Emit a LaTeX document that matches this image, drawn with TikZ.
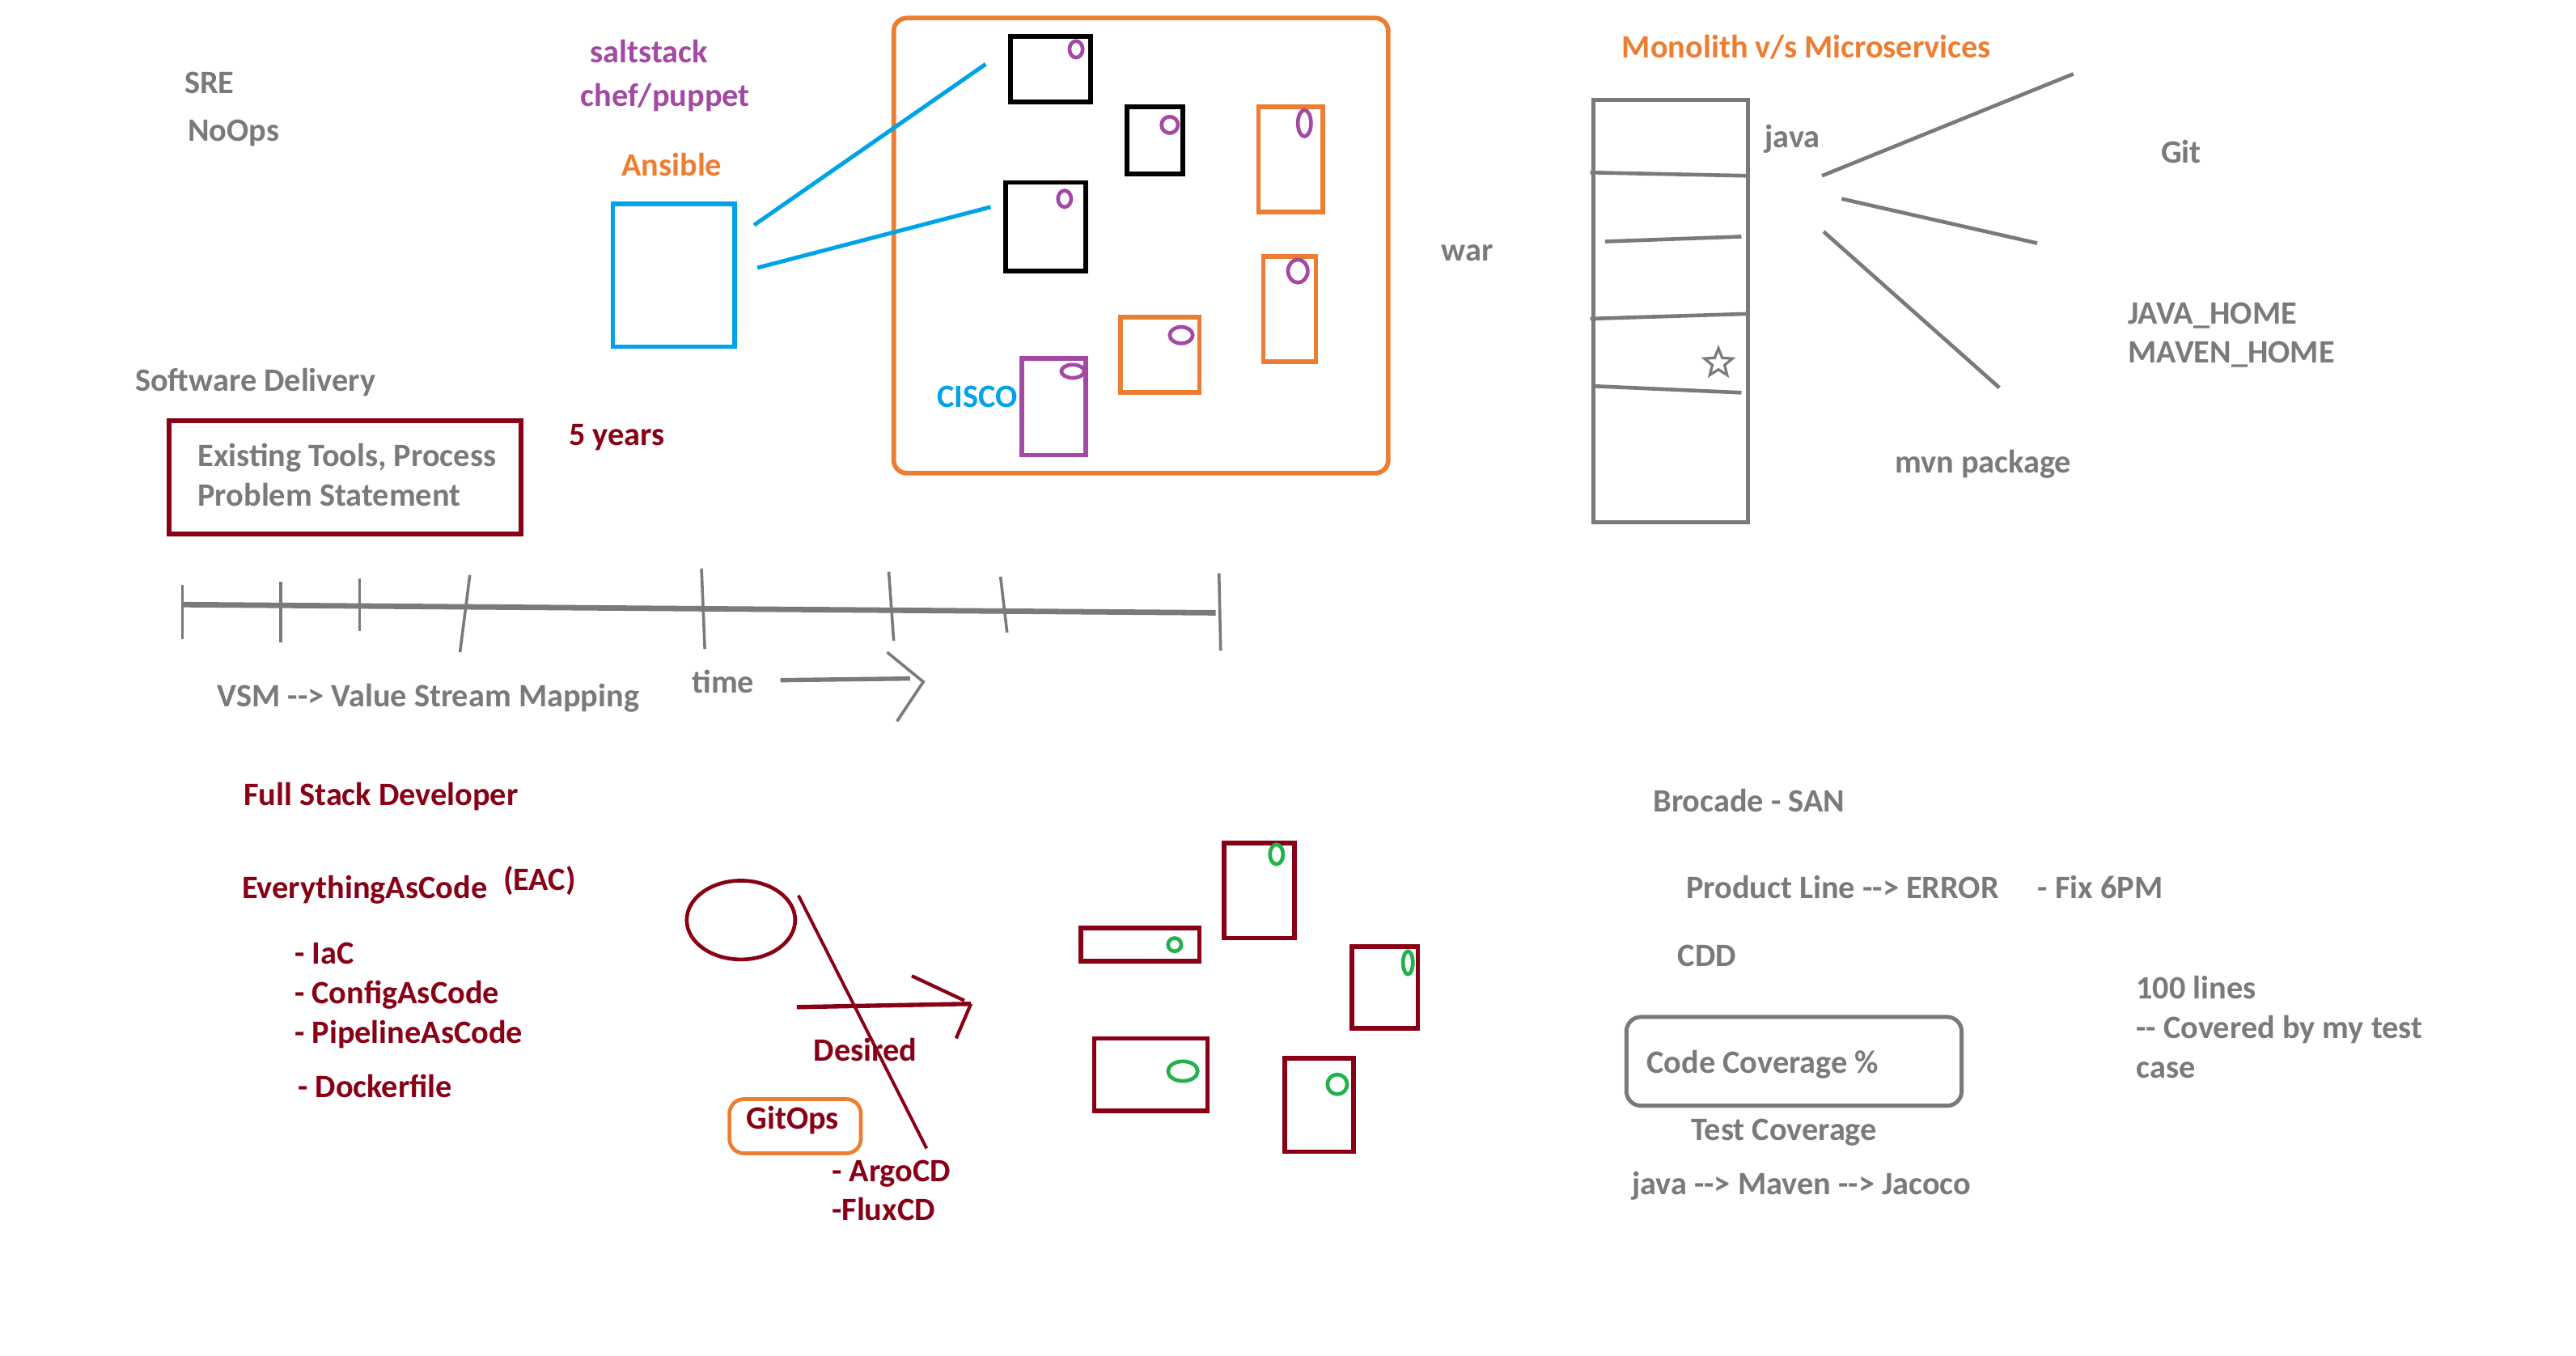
\documentclass[tikz,border=0pt]{standalone}
\usepackage{fontspec}
\setmainfont{Carlito}
\usetikzlibrary{fit,shapes.geometric}
\definecolor{inkgray}{RGB}{122,122,122}
\definecolor{inkred}{RGB}{136,0,21}
\definecolor{inkorange}{RGB}{237,125,49}
\definecolor{inkpurple}{RGB}{163,73,164}
\definecolor{inkblue}{RGB}{0,162,232}
\definecolor{inkgreen}{RGB}{34,177,76}
\newcommand{\portmark}[4]{\draw [#1, line width=1.3pt] (#2) ellipse [x radius=#3cm, y radius=#4cm];}

\begin{document}
\begin{tikzpicture}[x=0.02cm, y=-0.02cm, every node/.style={inner sep=0pt, anchor=base west, yshift=-0.02cm, font=\bfseries\fontsize{11.3}{13}\selectfont},
 note/.style={text=inkgray}, rednote/.style={text=inkred}, box/.style={draw, line width=1.6pt, fit={#1}, yshift=0pt},
 line/.style={draw=inkgray, line width=1.3pt}]

 \useasboundingbox (0,0) rectangle (1568,825);

 \node[note] (sre) at (112,56) {SRE};
 \node[note] (noops) at (114,85) {NoOps};
 \node[text=inkpurple] (salt) at (359,37) {saltstack};
 \node[text=inkpurple] (chef) at (353,64) {chef/puppet};
 \node[text=inkorange] (ansiblelabel) at (378,106) {Ansible};
 \node[box={(373,123) (447,210)}, draw=inkblue] (ansible) {};

 \node[box={(544,10) (845,287)}, draw=inkorange, rounded corners=4.5pt] (fleet) {};
 \node[box={(615,21) (664,61)}, draw=black] (srv1) {};
 \node[box={(686,64) (720,105)}, draw=black] (srv2) {};
 \node[box={(612,110) (661,164)}, draw=black] (srv3) {};
 \node[box={(766,64) (805,128)}, draw=inkorange] (srv4) {};
 \node[box={(769,155) (801,219)}, draw=inkorange] (srv5) {};
 \node[box={(682,192) (730,238)}, draw=inkorange] (srv6) {};
 \node[box={(622,217) (661,276)}, draw=inkpurple] (srv7) {};
 \node[text=inkblue] (cisco) at (570,247) {CISCO};
 \portmark{inkpurple}{655,30}{.08}{.1}
 \portmark{inkpurple}{712,76}{.1}{.1}
 \portmark{inkpurple}{648,121}{.08}{.1}
 \portmark{inkpurple}{794,75}{.08}{.16}
 \portmark{inkpurple}{790,165}{.12}{.14}
 \portmark{inkpurple}{719,204}{.14}{.1}
 \portmark{inkpurple}{653,226}{.14}{.08}
 \coordinate (push1) at (459,136);
 \coordinate (push2) at (461,162);
 \coordinate (hit1) at (600,38);
 \coordinate (hit3) at (603,125);
 \draw[inkblue, line width=1.4pt] (push1) -- (hit1);
 \draw[inkblue, line width=1.4pt] (push2) -- (hit3);

 \node[note] (war) at (877,158) {war};
 \node[text=inkorange] (mono) at (987,34) {Monolith v/s Microservices};
 \node[box={(970,60) (1064,317)}, draw=inkgray, line width=1.4pt] (monolith) {};
 \draw[line] (968,105) -- (1064,107);
 \draw[line] (977,147) -- (1060,144);
 \draw[line] (968,194) -- (1064,191);
 \draw[line] (970,235) -- (1060,239);
 \node[star, star points=5, star point ratio=2.3, draw=inkgray, line width=0.9pt, minimum size=0.36cm, anchor=center, yshift=0pt] (fav) at (1046,220) {};
 \node[note] (java) at (1074,89) {java};
 \node[note] (git) at (1315,98) {Git};
 \node[note] (javahome) at (1295,196) {JAVA\_HOME};
 \node[note] (mavenhome) at (1295,220) {MAVEN\_HOME};
 \node[note] (mvn) at (1153,287) {mvn package};
 \draw[line] (1109,107) -- (1262,45);
 \draw[line] (1121,121) -- (1240,148);
 \draw[line] (1110,141) -- (1217,236);

 \node[note] (delivery) at (82,237) {Software Delivery};
 \node[box={(103,255) (317,324)}, draw=inkred] (problem) {};
 \node[note] (tools) at (120,283) {Existing Tools, Process};
 \node[note] (stmt) at (120,307) {Problem Statement};
 \node[rednote] (years) at (346,270) {5 years};

 \draw[line, line width=1.9pt] (111,368) -- (740,373);
 \foreach \xa/\ya/\xb/\yb in {111/356/111/389, 171/354/171/391, 219/352/219/384, 286/350/280/397,
   427/346/429/395, 541/348/544/390, 609/351/613/385, 742/349/743/396}
   \draw[line, line width=1pt] (\xa,\ya) -- (\xb,\yb);
 \node[note] (vsm) at (132,429) {VSM -{}-> Value Stream Mapping};
 \node[note] (time) at (421,421) {time};
 \coordinate (later) at (562,414);
 \draw[line, line width=1.5pt] (475,414) -- (554,413);
 \draw[line, line width=1pt] (540,397) -- (later) -- (546,439);

 \node[rednote] (fsd) at (148,489) {Full Stack Developer};
 \node[rednote] (eac) at (147,546) {EverythingAsCode};
 \node[rednote] (eacshort) at (306,541) {(EAC)};
 \node[rednote] (iac) at (179,586) {- IaC};
 \node[rednote] (cac) at (179,610) {- ConfigAsCode};
 \node[rednote] (pac) at (179,634) {- PipelineAsCode};
 \node[rednote] (docker) at (181,667) {- Dockerfile};

 \draw[inkred, line width=1.3pt] (451,560) ellipse [x radius=0.66cm, y radius=0.48cm];
 \draw[inkred, line width=1.1pt] (486,545) -- (564,699);
 \coordinate (target) at (591,610);
 \draw[inkred, line width=1.5pt] (485,613) -- (target);
 \draw[inkred, line width=1.2pt] (555,594) -- (587,609) (target) -- (582,632);
 \node[rednote] (desired) at (495,645) {Desired};
 \node[box={(444,668) (524,701)}, draw=inkorange, line width=1.3pt, rounded corners=5pt] (gitopsbox) {};
 \node[rednote] (gitops) at (454,686) {GitOps};
 \node[rednote] (argo) at (506,718) {- ArgoCD};
 \node[rednote] (flux) at (506,742) {-FluxCD};

 \node[box={(658,564) (730,584)}, draw=inkred] (pod1) {};
 \node[box={(745,512) (788,570)}, draw=inkred] (pod2) {};
 \node[box={(823,575) (863,625)}, draw=inkred] (pod3) {};
 \node[box={(666,631) (735,675)}, draw=inkred] (pod4) {};
 \node[box={(782,643) (824,700)}, draw=inkred] (pod5) {};
 \portmark{inkgreen}{715,575}{.08}{.08}
 \portmark{inkgreen}{777,520}{.08}{.12}
 \portmark{inkgreen}{857,586}{.06}{.14}
 \portmark{inkgreen}{720,652}{.18}{.12}
 \portmark{inkgreen}{814,660}{.12}{.12}

 \node[note] (brocade) at (1006,493) {Brocade - SAN};
 \node[note] (product) at (1026,546) {Product Line -{}-> ERROR};
 \node[note] (fix) at (1240,546) {- Fix 6PM};
 \node[note] (cdd) at (1021,587) {CDD};
 \node[box={(990,618) (1194,672)}, draw=inkgray, line width=1.4pt, rounded corners=5pt] (coveragebox) {};
 \node[note] (coverage) at (1002,652) {Code Coverage \%};
 \node[note] (testcov) at (1029,693) {Test Coverage};
 \node[note] (jacoco) at (993,726) {java -{}-> Maven -{}-> Jacoco};
 \node[note] (lines) at (1300,607) {100 lines};
 \node[note] (covered) at (1300,631) {-{}- Covered by my test};
 \node[note] (case) at (1300,655) {case};
\end{tikzpicture}
\end{document}
